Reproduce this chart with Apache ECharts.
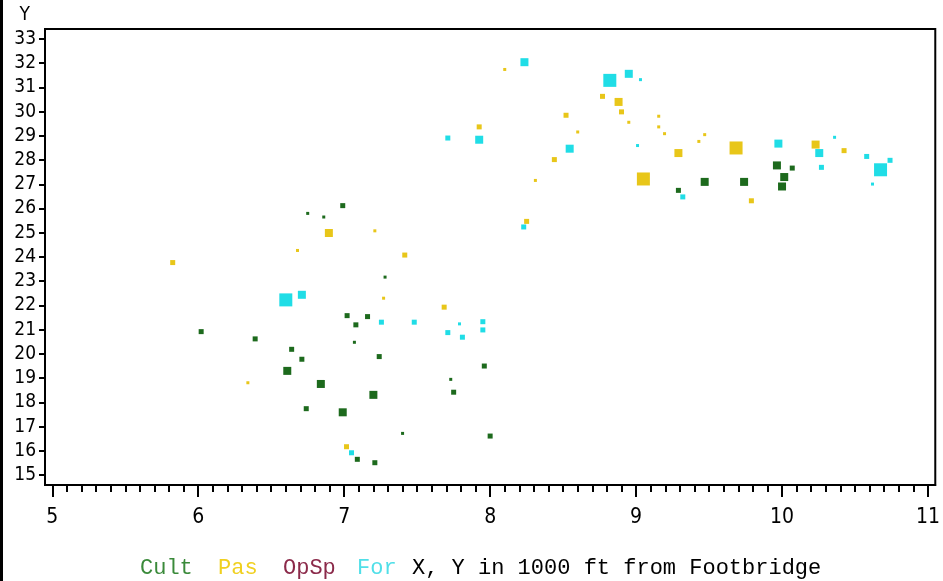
<!DOCTYPE html>
<html>
<head>
<meta charset="utf-8">
<script src="https://cdn.jsdelivr.net/npm/echarts@6/dist/echarts.min.js"></script>
<style>
  html, body { margin: 0; padding: 0; background: #fff; }
  #chart { width: 943px; height: 581px; }
</style>
</head>
<body>
<div id="chart"></div>
<script>
// x, y in 1000 ft from footbridge, third value = relative mark size
var cultPts = [
    [6.99, 26.12, 2], [6.75, 25.8, 1], [6.86, 25.65, 1], [7.02, 21.58, 2], [7.08, 21.2, 2],
    [7.07, 20.48, 1], [6.02, 20.92, 2], [6.39, 20.62, 2], [6.64, 20.19, 2], [6.71, 19.78, 2],
    [6.61, 19.30, 3], [6.84, 18.76, 3], [6.74, 17.74, 2], [6.99, 17.59, 3], [7.09, 15.65, 2],
    [7.28, 23.17, 1], [7.16, 21.54, 2], [7.24, 19.89, 2], [7.96, 19.50, 2], [7.73, 18.95, 1],
    [7.75, 18.42, 2], [7.20, 18.31, 3], [7.40, 16.72, 1], [8.0, 16.61, 2], [7.21, 15.51, 2],
    [9.965, 27.78, 3], [10.07, 27.67, 2], [10.015, 27.30, 3], [10.0, 26.91, 3], [9.74, 27.10, 3],
    [9.47, 27.10, 3], [9.29, 26.75, 2]
];
var pasPts = [
    [6.895, 24.99, 3], [6.68, 24.27, 1], [5.825, 23.77, 2], [6.34, 18.81, 1], [7.016, 16.17, 2],
    [7.21, 25.08, 1], [7.415, 24.08, 2], [7.27, 22.30, 1], [7.685, 21.93, 2], [8.25, 25.47, 2],
    [8.10, 31.74, 1], [8.77, 30.63, 2], [8.88, 30.40, 3], [8.90, 29.99, 2], [8.95, 29.56, 1],
    [8.52, 29.85, 2], [9.155, 29.81, 1], [9.155, 29.37, 1], [9.195, 29.09, 1], [7.925, 29.37, 2],
    [8.60, 29.16, 1], [8.44, 28.02, 2], [9.29, 28.29, 3], [9.43, 28.77, 1], [9.47, 29.05, 1],
    [9.685, 28.50, 4], [10.23, 28.64, 3], [10.425, 28.39, 2], [9.05, 27.22, 4], [8.31, 27.16, 1],
    [9.79, 26.32, 2]
];
var opspPts = [];
var forPts = [
    [6.60, 22.23, 4], [6.71, 22.44, 3], [7.05, 15.92, 2], [7.255, 21.31, 2], [7.48, 21.31, 2],
    [7.79, 21.24, 1], [7.95, 21.33, 2], [7.95, 20.99, 2], [7.71, 20.88, 2], [7.81, 20.69, 2],
    [8.23, 25.24, 2], [8.235, 32.04, 3], [8.82, 31.29, 4], [8.95, 31.56, 3], [9.03, 31.32, 1],
    [7.925, 28.84, 3], [7.71, 28.91, 2], [8.545, 28.47, 3], [9.01, 28.60, 1], [9.975, 28.68, 3],
    [10.255, 28.29, 3], [10.36, 28.94, 1], [10.27, 27.70, 2], [10.58, 28.15, 2], [10.74, 27.99, 2],
    [10.675, 27.60, 4], [10.62, 27.01, 1], [9.32, 26.48, 2]
];

var xTicks = [5, 6, 7, 8, 9, 10, 11];
var yTicks = [15, 16, 17, 18, 19, 20, 21, 22, 23, 24, 25, 26, 27, 28, 29, 30, 31, 32, 33];
var legendNames = ['Cult', 'Pas', 'OpSp', 'For'];
var axisNote = 'X, Y in 1000 ft from Footbridge';

// minor ticks every 0.1 on x
var xMinor = [];
for (var t = 50; t <= 110; t++) xMinor.push(t / 10);

var tickFont = "'Liberation Sans Narrow', 'DejaVu Sans Condensed', sans-serif";
var monoFont = "'Liberation Mono', 'DejaVu Sans Mono', monospace";

function markSize(v) {
    return [0, 3, 5, 8, 13][v[2]];
}

function makeSeries(name, pts, color) {
    return {
        name: name,
        type: 'scatter',
        data: pts,
        symbol: 'rect',
        symbolSize: markSize,
        itemStyle: { color: color, opacity: 1 },
        silent: true
    };
}

var myChart = echarts.init(document.getElementById('chart'));
var option = {
    animation: false,
    backgroundColor: '#fff',
    grid: {
        left: 45, right: 5, top: 29, bottom: 96,
        show: true, borderColor: '#000', borderWidth: 2
    },
    xAxis: [
        {
            type: 'value', min: 4.95, max: 11.05, position: 'bottom',
            axisLine: { show: true, lineStyle: { color: '#000', width: 2 } },
            splitLine: { show: false },
            axisTick: { show: true, customValues: xTicks, length: 12, lineStyle: { color: '#000', width: 2 } },
            axisLabel: { show: true, customValues: xTicks, margin: 22, color: '#000', fontSize: 21, fontFamily: tickFont }
        },
        {
            type: 'value', min: 4.95, max: 11.05, position: 'bottom', offset: 0,
            axisLine: { show: false },
            splitLine: { show: false },
            axisTick: { show: true, customValues: xMinor, length: 7, lineStyle: { color: '#000', width: 2 } },
            axisLabel: { show: false }
        }
    ],
    yAxis: {
        type: 'value', min: 14.59, max: 33.41,
        name: 'Y', nameLocation: 'end', nameGap: 4,
        nameTextStyle: { color: '#000', fontSize: 19, fontFamily: tickFont, align: 'right', padding: [0, 15, 0, 0] },
        axisLine: { show: true, lineStyle: { color: '#000', width: 2 } },
        splitLine: { show: false },
        axisTick: { show: true, customValues: yTicks, length: 6, lineStyle: { color: '#000', width: 2 } },
        axisLabel: { show: true, customValues: yTicks, margin: 9, color: '#000', fontSize: 19, fontFamily: tickFont }
    },
    series: [
        makeSeries('Cult', cultPts, '#1d6a1d'),
        makeSeries('Pas', pasPts, '#e8c619'),
        makeSeries('OpSp', opspPts, '#8b2a3c'),
        makeSeries('For', forPts, '#20dde6')
    ],
    graphic: [
        { type: 'rect', left: 0, top: 0, shape: { width: 3, height: 581 }, style: { fill: '#000' } },
        { type: 'text', left: 140, top: 557, style: { text: legendNames[0], fill: '#3a8a3a', font: '22px ' + monoFont } },
        { type: 'text', left: 218, top: 557, style: { text: legendNames[1], fill: '#f0d020', font: '22px ' + monoFont } },
        { type: 'text', left: 283, top: 557, style: { text: legendNames[2], fill: '#8b2a4a', font: '22px ' + monoFont } },
        { type: 'text', left: 357, top: 557, style: { text: legendNames[3], fill: '#50dfe8', font: '22px ' + monoFont } },
        { type: 'text', left: 412, top: 557, style: { text: axisNote, fill: '#000', font: '22px ' + monoFont } }
    ]
};
myChart.setOption(option);
</script>
</body>
</html>
